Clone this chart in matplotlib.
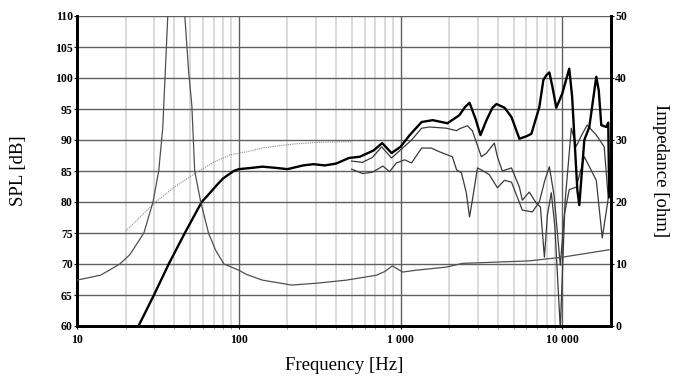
import numpy as np
import matplotlib
matplotlib.use("Agg")
import matplotlib.pyplot as plt
from matplotlib.ticker import FixedLocator, NullFormatter

# on-axis SPL (thick)
f_on = [24, 29.9, 36.9, 46.4, 59, 65, 73, 80, 93, 100, 120, 140, 170, 200, 250, 290, 340,
        400, 480, 560, 680, 770, 880, 1000, 1140, 1350, 1580, 1950, 2310, 2500, 2670, 2900,
        3120, 3400, 3700, 3920, 4400, 4850, 5430, 6000, 6440, 7210, 7640, 8000, 8320, 8700,
        9180, 10000, 10500, 11040, 11500, 12390, 12740, 13680, 14690, 15500, 16220, 16800,
        17420, 18700, 19230, 19500]
spl_on = [60, 65, 70, 75, 80, 81.2, 82.7, 83.8, 85, 85.3, 85.5, 85.7, 85.5, 85.3, 85.9, 86.1, 85.9,
          86.2, 87.1, 87.3, 88.3, 89.5, 87.9, 88.9, 90.8, 92.9, 93.2, 92.7, 94, 95.3, 96, 93.5,
          90.8, 93.2, 95.2, 95.8, 95.2, 93.7, 90.2, 90.6, 91, 95.3, 99.7, 100.5, 100.9, 98.5,
          95.2, 97.5, 99.5, 101.5, 97, 81.9, 79.5, 90, 92.1, 96.5, 100.2, 98,
          92.4, 92.1, 92.8, 80.8]

# 30 deg
f_30 = [498, 582, 671, 764, 880, 1000, 1170, 1350, 1510, 1920, 2220, 2310, 2590, 2780,
        3160, 3400, 3800, 3970, 4260, 4850, 5430, 5660, 6250, 6910, 7320, 7750, 8100, 8550,
        9000, 9720, 10400, 11370, 12200, 13300, 14250, 16220, 18160, 19230]
spl_30 = [86.6, 86.4, 87.2, 88.9, 87.1, 88.4, 90, 91.9, 92.1, 91.9, 91.5, 91.8, 92.3, 91.5,
          87.3, 87.9, 89.5, 87.3, 85, 85.5, 82.4, 80.3, 81.6, 79.8, 79.2, 71.1, 78, 81.5,
          76, 59.5, 80, 91.9, 89, 91, 92.4, 90.8, 88.9, 80.6]

# 60 deg
f_60 = [498, 582, 671, 777, 855, 944, 1060, 1170, 1350, 1550, 1740, 2090, 2220, 2380,
        2550, 2670, 2780, 2990, 3300, 3540, 3970, 4390, 4850, 5660, 6530, 7210, 7800, 8320,
        8900, 9720, 10300, 11040, 12200, 13680, 14500, 16220, 17660, 19230]
spl_60 = [85.3, 84.6, 84.8, 85.8, 84.9, 86.3, 86.8, 86.3, 88.7, 88.7, 88.1, 87.3, 85.2, 84.7,
          81.5, 77.6, 80.3, 85.5, 84.9, 84.4, 82.3, 83.5, 83.2, 78.7, 78.4, 80, 83.5, 85.7,
          81, 69.8, 78, 82, 82.4, 87.3, 86, 83.5, 74.2, 80.6]

# simulated (dotted)
f_sim = [20, 30, 40, 55, 70, 88, 112, 140, 180, 228, 300, 402, 500]
spl_sim = [75.3, 79.8, 82.4, 84.8, 86.4, 87.6, 88.1, 88.7, 89.1, 89.4, 89.6, 89.7, 89.7]

# impedance
f_imp = [10, 14, 18.4, 21.2, 25.9, 29.5, 32, 33.9, 35, 36.4, 38.5, 41, 43.5, 46.4, 49, 51.3,
         53.4, 58.2, 65, 72, 81, 100, 112, 140, 212, 302, 464, 712, 800, 890, 944, 1030,
         1250, 1920, 2416, 6250, 10000, 19500]
z_imp = [7.4, 8.2, 10, 11.5, 15, 20, 25, 32, 40, 50, 70, 95, 70, 50, 41, 35.5,
         25, 20, 15, 12.2, 10, 9.0, 8.3, 7.4, 6.6, 6.9, 7.4, 8.2, 8.8, 9.7, 9.3, 8.7,
         9.0, 9.5, 10.1, 10.5, 11.1, 12.3]

serif = ["Liberation Serif", "DejaVu Serif"]
plt.rcParams['font.family'] = serif

fig = plt.figure(figsize=(6.78, 3.80), dpi=100)
ax = fig.add_axes([77/678, 54/380, 534/678, 310/380])
ax.set_xscale("log")
ax.set_xlim(10, 20000)
ax.set_ylim(60, 110)

# grid
minor = [m * 10**d for d in range(1, 5) for m in range(2, 10) if m * 10**d < 20000]
for xm in minor:
    ax.axvline(xm, color="#d4d4d4", lw=1.2, zorder=0)
for xd in [100, 1000, 10000]:
    ax.axvline(xd, color="#606060", lw=1.0, zorder=0.5)
for yv in range(65, 111, 5):
    ax.axhline(yv, color="#606060", lw=1.0, zorder=0.5)

ax.plot(f_sim, spl_sim, color="#888888", lw=0.8, ls=(0, (1, 1)), zorder=2)
ax.plot(f_60, spl_60, color="#3a3a3a", lw=0.9, zorder=3)
ax.plot(f_30, spl_30, color="#3a3a3a", lw=0.9, zorder=3)
ax.plot(f_on, spl_on, color="black", lw=1.7, zorder=4)

ax2 = ax.twinx()
ax2.set_ylim(0, 50)
ax2.plot(f_imp, z_imp, color="#505050", lw=0.9, zorder=3)

for a in (ax, ax2):
    for s in ("left", "bottom", "right"):
        a.spines[s].set_linewidth(2.0)
        a.spines[s].set_color("black")
    a.spines["top"].set_visible(False)

ax.set_yticks(range(60, 111, 5))
ax.set_yticklabels([str(v) for v in range(60, 111, 5)], fontweight="bold", fontsize=8.5)
ax.xaxis.set_major_locator(FixedLocator([10, 100, 1000, 10000]))
ax.set_xticklabels(["10", "100", "1 000", "10 000"], fontweight="bold", fontsize=8.5)
ax.xaxis.set_minor_locator(FixedLocator(minor))
ax.xaxis.set_minor_formatter(NullFormatter())
ax.tick_params(axis="y", length=2, width=0.8, pad=1)
ax.tick_params(axis="x", which="both", length=2, width=0.8, pad=4)
ax.tick_params(axis="x", which="minor", color="#999999")

ax2.set_yticks(range(0, 51, 10))
ax2.set_yticklabels([str(v) for v in range(0, 51, 10)], fontweight="bold", fontsize=8.5)
ax2.tick_params(axis="y", length=2, width=0.8, pad=1)

ax.set_xlabel("Frequency [Hz]", fontsize=13.5, labelpad=8)
ax.set_ylabel("SPL [dB]", fontsize=13.5, labelpad=20)
ax2.set_ylabel("Impedance [ohm]", fontsize=13.5, rotation=270, labelpad=30)

fig.savefig("out.png", dpi=100)
